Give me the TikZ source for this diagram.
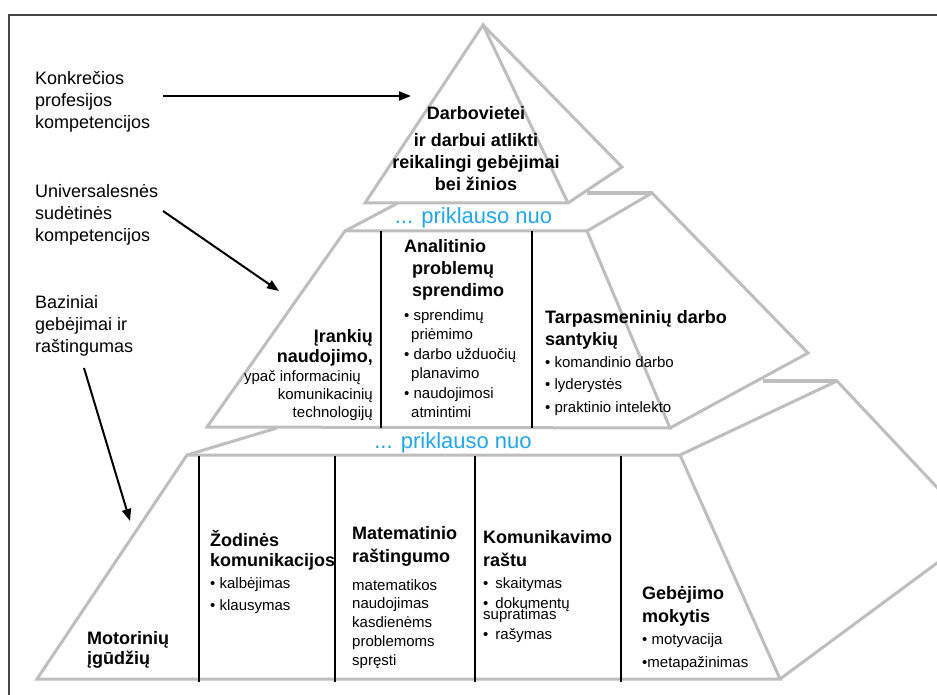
\documentclass[tikz,border=0pt]{standalone}
\usepackage{fontspec}
\setmainfont{Liberation Sans}
\usetikzlibrary{arrows.meta}
\definecolor{edgegray}{RGB}{190,190,190}
\definecolor{framegray}{RGB}{70,70,70}
\definecolor{linkblue}{RGB}{35,165,232}
\newcommand\fl{\rule{0pt}{20pt}}
\begin{document}
\begin{tikzpicture}[x=1pt,y=-1pt,
  edge/.style={draw=edgegray, line width=3pt, line join=miter},
  thickedge/.style={draw=edgegray, line width=4pt},
  divider/.style={draw=black, line width=1.1pt},
  pointer/.style={draw=black, line width=2pt, -{Triangle[length=12pt,width=9pt]}},
  lbl/.style={inner sep=0pt, anchor=north west, align=left, font=\fontsize{18}{22}\selectfont},
  head/.style={inner sep=0pt, anchor=north west, align=left, font=\fontsize{18}{22}\selectfont\bfseries},
  item/.style={inner sep=0pt, anchor=north west, align=left, font=\fontsize{15}{18}\selectfont},
  blue/.style={inner sep=0pt, anchor=north, text=linkblue, font=\fontsize{22}{26}\selectfont}]
\useasboundingbox (0,0) rectangle (937,695);

% frame
\draw[framegray, line width=1.5pt] (9,700) -- (9,15) -- (945,15);

% top pyramid
\draw[edge] (365,203) -- (483,25) -- (568,203) -- cycle;
\draw[edge] (483,25) -- (622,167) -- (568,203);

% middle level
\draw[edge] (207,427) -- (345,231) -- (587,231) -- (670,428) -- cycle;
\draw[edge] (345,231) -- (398,203);
\draw[edge] (587,231) -- (652,193) -- (808,353) -- (670,428);
\draw[thickedge] (587,193) -- (652,193);

% bottom level
\draw[edge] (37,679) -- (187,455) -- (680,455) -- (780,679) -- cycle;
\draw[edge] (187,455) -- (277,428);
\draw[edge] (680,455) -- (837,381) -- (979,532) -- (780,679);
\draw[thickedge] (763,381) -- (837,381);

% dividers
\foreach \x in {381,532} \draw[divider] (\x,231) -- (\x,428);
\foreach \x in {199,335,475,621} \draw[divider] (\x,456) -- (\x,682);

% left labels
\node[lbl] (konk) at (35,64) {\fl Konkrečios\\profesijos\\kompetencijos};
\node[lbl] (univ) at (35,177) {\fl Universalesnės\\sudėtinės\\kompetencijos};
\node[lbl] (baz) at (35,288) {\fl Baziniai\\gebėjimai ir\\raštingumas};

% arrows
\coordinate (a1s) at (163,96);  \coordinate (a1e) at (411,96);
\coordinate (a2s) at (163,211); \coordinate (a2e) at (279,291);
\coordinate (a3s) at (84,368);  \coordinate (a3e) at (130,521);
\draw[pointer] (a1s) -- (a1e);
\draw[pointer] (a2s) -- (a2e);
\draw[pointer] (a3s) -- (a3e);

% top text
\node[head, anchor=north, align=center] (darbo) at (476,99)
  {\fl Darbovietei\\[5pt]ir darbui atlikti\\reikalingi gebėjimai\\bei žinios};

% blue labels
\node[blue] (pr1) at (473.5,203) {\rule{0pt}{20pt}... priklauso nuo};
\node[blue] (pr2) at (453,428) {\rule{0pt}{20pt}... priklauso nuo};

% middle level texts
\node[head, anchor=north east, align=right] (irank) at (373,322)
  {\fl Įrankių\\[-2pt]naudojimo,};
\node[item, anchor=north east, align=right] (irankit) at (373,361)
  {\fl ypač informacinių\hspace*{12pt}\\komunikacinių\\technologijų};

\node[head] (anal) at (404,232)
  {\fl Analitinio\\\hspace*{8pt}problemų\\\hspace*{8pt}sprendimo};
\node[item, font=\fontsize{15}{19}\selectfont] (analit) at (404,300)
  {\fl • sprendimų\\\hspace*{7pt}priėmimo\\[1pt]• darbo užduočių\\\hspace*{7pt}planavimo\\[1pt]• naudojimosi\\\hspace*{7pt}atmintimi};

\node[head] (tarp) at (545,303) {\fl Tarpasmeninių darbo\\santykių};
\node[item, font=\fontsize{15}{22.5}\selectfont] (tarpit) at (545,347)
  {\fl • komandinio darbo\\• lyderystės\\• praktinio intelekto};

% bottom level texts
\node[head, font=\fontsize{18}{20}\selectfont\bfseries] (motor) at (87,624) {\fl Motorinių\\įgūdžių};

\node[head, font=\fontsize{18}{20}\selectfont\bfseries] (zod) at (210,526) {\fl Žodinės\\komunikacijos};
\node[item, font=\fontsize{15}{22}\selectfont] (zodit) at (210,568) {\fl • kalbėjimas\\• klausymas};

\node[head, font=\fontsize{18}{23}\selectfont\bfseries] (mat) at (352,519) {\fl Matematinio\\raštingumo};
\node[item, font=\fontsize{15}{18.75}\selectfont] (matit) at (352,570)
  {\fl matematikos\\naudojimas\\kasdienėms\\problemoms\\spręsti};

\node[head, font=\fontsize{18}{23}\selectfont\bfseries] (kom) at (483,523) {\fl Komunikavimo\\raštu};
\node[item, font=\fontsize{15}{20}\selectfont] (komit) at (483,568)
  {\fl •\hspace{7pt}skaitymas\\•\hspace{7pt}dokumentų};
\node[item] (komsup) at (483,599) {\fl supratimas};
\node[item] (komras) at (483,619) {\fl •\hspace{7pt}rašymas};

\node[head, font=\fontsize{18}{23}\selectfont\bfseries] (geb) at (642,579) {\fl Gebėjimo\\mokytis};
\node[item, font=\fontsize{15}{23}\selectfont] (gebit) at (642,624) {\fl • motyvacija\\•metapažinimas};
\end{tikzpicture}
\end{document}
